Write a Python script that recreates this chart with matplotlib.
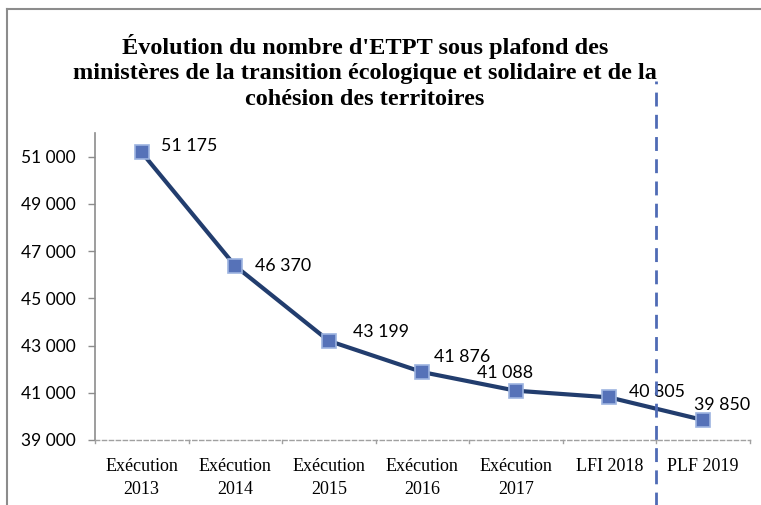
import matplotlib
matplotlib.use("Agg")
import matplotlib.pyplot as plt
from matplotlib.lines import Line2D

categories = ["Exécution\n2013", "Exécution\n2014", "Exécution\n2015", "Exécution\n2016",
              "Exécution\n2017", "LFI 2018", "PLF 2019"]
values = [51175, 46370, 43199, 41876, 41088, 40805, 39850]
value_labels = ["51 175", "46 370", "43 199", "41 876", "41 088", "40 805", "39 850"]
yticks = [39000, 41000, 43000, 45000, 47000, 49000, 51000]
ytick_labels = ["39 000", "41 000", "43 000", "45 000", "47 000", "49 000", "51 000"]
title = ("Évolution du nombre d'ETPT sous plafond des\n"
         "ministères de la transition écologique et solidaire et de la\n"
         "cohésion des territoires")

# label offsets in pixels (dx of left edge, dy of centre, positive = up)
offsets = [(19, 6), (20, 0), (24, 9), (12, 15), (-39, 18), (20, 5), (-9, 15)]

fig = plt.figure(figsize=(7.61, 5.05), dpi=100)
W, H = 761, 505
ax = fig.add_axes([95 / W, 1 - 440 / H, (749.5 - 95) / W, (440 - 133) / H])

x = list(range(len(values)))
ax.plot(x, values, color="#223d6e", lw=3.0, zorder=3,
        marker="s", markersize=10.5, markerfacecolor="#5672b8",
        markeredgecolor="#9db4e0", markeredgewidth=1.2)

for xi, v, lab, (dx, dy) in zip(x, values, value_labels, offsets):
    ax.annotate(lab, (xi, v), xytext=(dx * 0.72, dy * 0.72), textcoords="offset points",
                ha="left", va="center", fontsize=12.8, family="Lato", color="black", zorder=4)

ax.set_xlim(-0.5, len(values) - 0.5)
ax.set_ylim(39000, 52000)
ax.set_yticks(yticks)
ax.set_yticklabels(ytick_labels, fontsize=12.5, family="Lato")
ax.set_xticks(x)
ax.set_xticklabels(categories, fontsize=13, family="Liberation Serif", linespacing=1.42)
ax.tick_params(axis="x", length=0, pad=13)
ax.tick_params(axis="y", length=5, color="#8c8c8c", width=1, pad=9)

for s in ["top", "right"]:
    ax.spines[s].set_visible(False)
ax.spines["left"].set_color("#8c8c8c")
ax.spines["left"].set_linewidth(1.2)
ax.spines["bottom"].set_color("#a0a0a0")
ax.spines["bottom"].set_linestyle((0, (3, 2)))
ax.spines["bottom"].set_linewidth(1.0)

# boundary tick marks on x axis
for b in [i + 0.5 for i in range(-1, len(values))]:
    ax.plot([b, b], [39000, 38870], color="#a0a0a0", lw=1, clip_on=False, zorder=2)

# vertical dashed separator
ax.axvline(5.5, ymin=-0.215, ymax=1.17, color="#4f6bb5", lw=2,
           linestyle=(0, (5, 3)), clip_on=False, zorder=5)

fig.text(365 / W, 1 - 72 / H, title, ha="center", va="center", fontsize=17.5,
         family="Liberation Serif", fontweight="bold", linespacing=1.29)

# outer frame
fig.add_artist(Line2D([7 / W, 7 / W], [0, 1 - 9 / H], transform=fig.transFigure,
                      color="#8c8c8c", lw=1.5))
fig.add_artist(Line2D([7 / W, 1], [1 - 9 / H, 1 - 9 / H], transform=fig.transFigure,
                      color="#8c8c8c", lw=1.5))

fig.savefig("out.png", dpi=100, facecolor="white")
